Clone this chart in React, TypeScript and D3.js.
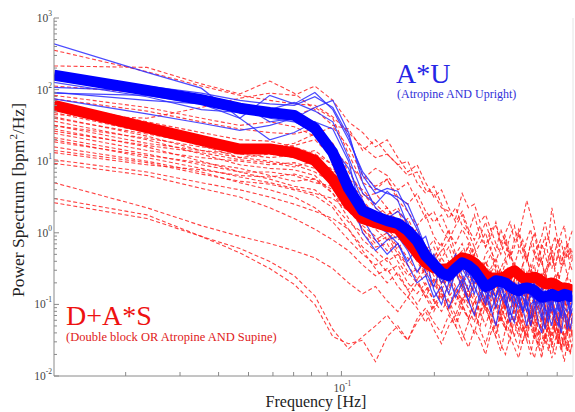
import React from 'react';
import * as d3 from 'd3';

// FFT bin width [Hz]; the spectra are sampled at k * freqStep, k = 1..48
const freqStep = 0.01171875;
const binCount = 48;
const freqs = d3.range(1, binCount + 1).map(k => k * freqStep);

// power spectra, written as exponents of ten
const blueMean = [
  2.20, 1.99, 1.86, 1.74, 1.68, 1.64, 1.46, 1.12, 0.62, 0.31, 0.23, 0.17,
  0.13, 0.03, -0.11, -0.32, -0.44, -0.56, -0.60, -0.50, -0.42, -0.46, -0.53, -0.64,
  -0.75, -0.72, -0.67, -0.68, -0.70, -0.75, -0.79, -0.81, -0.78, -0.77, -0.78, -0.81,
  -0.86, -0.90, -0.89, -0.88, -0.86, -0.88, -0.89, -0.88, -0.86, -0.87, -0.89, -0.88,
];

const redMean = [
  1.78, 1.47, 1.29, 1.17, 1.17, 1.12, 1.01, 0.74, 0.40, 0.20, 0.14, 0.09,
  0.06, -0.11, -0.28, -0.42, -0.49, -0.51, -0.50, -0.42, -0.35, -0.37, -0.42, -0.50,
  -0.60, -0.63, -0.63, -0.63, -0.61, -0.56, -0.53, -0.58, -0.63, -0.64, -0.63, -0.62,
  -0.64, -0.68, -0.71, -0.71, -0.70, -0.72, -0.75, -0.77, -0.77, -0.78, -0.79, -0.81,
];

// A*U subjects (thin blue)
const blueSubjects = [
  [2.64,2.24,2.02,1.60,1.92,1.80,1.96,1.72,1.30,0.85,0.62,0.55,
   0.50,0.40,0.10,-0.20,-0.45,-0.70,-0.55,-0.35,-0.60,-0.80,-0.55,-0.75,
   -0.95,-0.70,-0.60,-0.85,-1.00,-0.80,-0.70,-0.95,-1.10,-0.85,-0.75,-0.95,
   -1.05,-1.20,-0.95,-0.80,-1.00,-1.15,-0.95,-0.85,-1.05,-1.10,-0.90,-1.00],
  [2.15,2.05,1.95,1.85,1.80,1.78,1.90,1.75,1.35,0.80,0.55,0.62,
   0.58,0.30,0.05,-0.25,-0.55,-0.45,-0.70,-0.40,-0.30,-0.55,-0.70,-0.50,
   -0.80,-0.90,-0.60,-0.75,-0.70,-0.95,-0.85,-0.70,-0.90,-1.00,-0.85,-0.95,
   -0.80,-1.05,-0.90,-1.00,-0.85,-0.95,-1.10,-0.90,-0.80,-1.00,-0.95,-0.90],
  [2.03,1.98,1.92,1.80,1.55,1.60,1.75,1.85,1.40,0.70,0.35,0.20,
   0.30,0.15,-0.20,-0.50,-0.30,-0.60,-0.85,-0.55,-0.45,-0.60,-0.45,-0.85,
   -1.00,-0.75,-0.90,-0.65,-0.95,-1.15,-0.80,-0.90,-0.70,-1.00,-1.20,-0.90,
   -0.95,-0.85,-1.10,-1.25,-0.95,-0.85,-1.00,-1.20,-0.95,-0.90,-1.15,-1.05],
  [1.96,1.85,1.80,1.72,1.60,1.55,1.40,1.05,0.55,0.00,-0.25,-0.10,
   -0.05,-0.25,-0.55,-0.35,-0.80,-1.00,-0.70,-0.55,-0.75,-0.95,-0.70,-0.60,
   -0.85,-1.10,-0.90,-0.75,-0.95,-1.25,-1.00,-0.85,-1.10,-0.95,-1.30,-1.05,
   -0.90,-1.15,-1.35,-1.05,-0.95,-1.20,-1.30,-1.00,-1.10,-1.35,-1.15,-1.05],
  [1.87,1.66,1.53,1.43,1.50,1.60,1.55,1.20,0.90,0.45,0.10,0.00,
   -0.15,-0.40,-0.20,-0.55,-0.75,-0.45,-0.60,-0.90,-0.70,-0.50,-0.75,-0.95,
   -0.65,-0.80,-1.05,-0.80,-0.60,-0.85,-1.00,-0.75,-0.90,-1.10,-0.85,-0.70,
   -0.95,-1.00,-0.80,-1.15,-0.90,-0.80,-1.05,-1.15,-0.85,-0.95,-1.10,-0.95],
  [2.10,1.90,1.72,1.68,1.72,1.82,1.70,1.55,1.05,0.55,0.40,0.58,
   0.45,0.10,-0.15,-0.05,-0.40,-0.65,-0.50,-0.30,-0.50,-0.65,-0.85,-0.60,
   -0.50,-0.75,-0.90,-0.65,-0.80,-0.70,-0.90,-1.05,-0.80,-0.70,-0.90,-0.85,
   -1.00,-0.75,-0.90,-0.95,-1.10,-0.85,-0.80,-1.00,-0.90,-0.85,-1.05,-0.95],
  [1.95,1.92,1.80,1.60,1.30,1.40,1.55,1.45,1.00,0.20,-0.10,-0.30,
   -0.15,-0.45,-0.70,-0.60,-0.90,-0.75,-1.05,-0.80,-0.65,-0.95,-1.15,-0.85,
   -0.75,-1.05,-1.30,-0.95,-0.85,-1.10,-1.25,-0.90,-1.05,-1.30,-1.00,-0.95,
   -1.25,-1.40,-1.05,-1.15,-1.30,-1.05,-1.20,-1.40,-1.10,-1.20,-1.35,-1.15],
];

// D+A*S subjects (thin red dashed)
const redSubjects = [
  [2.55,2.25,2.05,1.92,1.85,1.80,1.78,1.62,1.40,1.20,1.05,1.10,
   0.95,0.80,0.85,0.60,0.55,0.35,0.30,0.20,0.55,0.35,0.40,0.15,
   0.25,0.05,0.10,-0.15,0.00,0.15,-0.10,-0.05,0.20,0.45,0.25,0.05,
   -0.20,-0.05,0.15,-0.10,0.35,0.10,-0.15,0.00,0.10,-0.20,-0.05,0.05],
  [2.33,2.31,2.08,1.94,2.12,1.95,1.72,1.50,1.45,1.15,1.30,1.10,
   0.95,1.00,0.70,0.55,0.65,0.40,0.20,0.35,0.10,0.00,0.25,-0.05,
   -0.20,0.05,-0.15,-0.30,-0.10,-0.35,-0.20,0.00,-0.25,-0.40,-0.15,-0.30,
   -0.45,-0.20,-0.05,-0.35,-0.50,-0.25,-0.10,-0.40,-0.30,-0.15,-0.35,-0.25],
  [2.05,1.95,1.80,1.72,1.70,1.62,1.75,1.60,1.10,0.70,0.60,0.75,
   0.45,0.30,0.10,0.25,-0.05,-0.20,0.05,-0.30,-0.45,-0.15,-0.35,-0.55,
   -0.30,-0.20,-0.50,-0.65,-0.40,-0.25,-0.55,-0.70,-0.45,-0.30,-0.60,-0.75,
   -0.50,-0.35,-0.65,-0.45,-0.30,-0.55,-0.70,-0.50,-0.40,-0.60,-0.45,-0.55],
  [1.65,1.60,1.75,1.88,1.95,1.92,2.05,1.85,1.55,1.40,1.20,1.30,
   1.05,0.85,0.95,0.70,0.50,0.60,0.35,0.15,0.30,0.05,-0.10,0.10,
   -0.20,-0.05,0.15,-0.15,-0.30,-0.05,0.10,-0.20,-0.35,-0.10,0.05,-0.25,
   -0.40,-0.15,-0.30,-0.50,-0.20,-0.05,-0.30,-0.45,-0.20,-0.35,-0.25,-0.40],
  [1.87,1.70,1.55,1.45,1.40,1.38,1.45,1.25,0.85,0.55,0.35,0.20,
   0.30,0.05,-0.15,-0.30,-0.20,-0.45,-0.60,-0.35,-0.25,-0.50,-0.65,-0.45,
   -0.70,-0.85,-0.60,-0.50,-0.75,-0.90,-0.65,-0.55,-0.80,-0.95,-0.70,-0.60,
   -0.85,-1.00,-0.75,-0.65,-0.90,-0.80,-1.00,-0.85,-0.70,-0.95,-0.85,-0.90],
  [1.82,1.55,1.40,1.30,1.28,1.20,1.10,0.95,0.60,0.30,0.15,0.25,
   0.00,-0.20,-0.40,-0.25,-0.55,-0.70,-0.50,-0.40,-0.65,-0.80,-0.60,-0.45,
   -0.75,-0.95,-0.70,-0.85,-1.05,-0.80,-0.70,-0.95,-1.10,-0.85,-1.00,-1.20,
   -0.90,-0.80,-1.05,-1.20,-0.95,-1.10,-1.25,-1.00,-0.90,-1.15,-1.05,-1.20],
  [1.75,1.45,1.30,1.20,1.15,1.22,1.30,1.05,0.70,0.50,0.55,0.35,
   0.10,0.20,-0.05,-0.20,-0.40,-0.25,-0.10,-0.35,-0.55,-0.40,-0.20,-0.45,
   -0.65,-0.50,-0.35,-0.60,-0.80,-0.55,-0.40,-0.70,-0.85,-0.60,-0.45,-0.75,
   -0.90,-0.65,-0.50,-0.80,-0.95,-0.70,-0.55,-0.85,-0.75,-0.60,-0.90,-0.75],
  [1.68,1.40,1.22,1.05,1.00,0.95,0.85,0.70,0.40,0.05,-0.10,0.00,
   -0.25,-0.45,-0.30,-0.60,-0.75,-0.55,-0.85,-1.00,-0.70,-0.60,-0.90,-1.10,
   -0.85,-0.70,-1.00,-1.20,-0.90,-0.75,-1.05,-1.25,-0.95,-1.10,-1.30,-1.00,
   -0.85,-1.15,-1.30,-1.05,-0.95,-1.25,-1.40,-1.10,-1.00,-1.30,-1.15,-1.25],
  [1.62,1.35,1.15,1.05,1.10,1.05,0.95,0.90,0.75,0.60,0.40,0.25,
   0.35,0.10,-0.05,-0.25,-0.10,-0.35,-0.50,-0.30,-0.15,-0.40,-0.55,-0.70,
   -0.45,-0.30,-0.55,-0.75,-0.50,-0.65,-0.85,-0.60,-0.45,-0.70,-0.90,-0.65,
   -0.80,-0.55,-0.75,-0.95,-0.70,-0.60,-0.85,-0.70,-0.95,-0.80,-0.65,-0.85],
  [1.56,1.30,1.10,0.95,0.90,0.88,0.80,0.55,0.20,-0.10,-0.25,-0.40,
   -0.30,-0.55,-0.70,-0.90,-0.65,-0.80,-1.05,-0.85,-0.70,-0.95,-1.15,-0.90,
   -1.05,-1.25,-0.95,-0.85,-1.10,-1.30,-1.05,-0.90,-1.20,-1.35,-1.05,-1.20,
   -1.45,-1.15,-1.00,-1.30,-1.45,-1.20,-1.10,-1.35,-1.50,-1.25,-1.15,-1.30],
  [1.50,1.25,1.15,1.10,1.05,1.08,1.15,0.95,0.45,0.25,0.30,0.05,
   -0.10,0.00,-0.20,-0.40,-0.55,-0.35,-0.20,-0.50,-0.65,-0.45,-0.30,-0.60,
   -0.80,-0.55,-0.45,-0.70,-0.90,-0.60,-0.75,-0.95,-0.70,-0.55,-0.80,-0.95,
   -0.70,-0.85,-1.05,-0.80,-0.65,-0.90,-1.00,-0.75,-0.90,-1.05,-0.85,-0.95],
  [1.45,1.20,1.00,0.85,0.75,0.65,0.60,0.40,0.15,0.00,-0.20,-0.15,
   -0.40,-0.60,-0.50,-0.75,-0.95,-0.70,-0.60,-0.85,-1.05,-0.80,-0.95,-1.15,
   -0.90,-0.75,-1.05,-1.25,-1.00,-0.85,-1.15,-1.35,-1.05,-0.95,-1.25,-1.40,
   -1.10,-1.25,-1.50,-1.20,-1.05,-1.35,-1.55,-1.25,-1.10,-1.40,-1.30,-1.45],
  [1.39,1.15,1.05,1.00,0.95,0.98,0.90,0.85,0.60,0.30,0.10,0.15,
   -0.05,-0.15,-0.35,-0.20,-0.45,-0.60,-0.40,-0.55,-0.75,-0.50,-0.40,-0.65,
   -0.85,-0.60,-0.70,-0.90,-0.65,-0.50,-0.80,-1.00,-0.75,-0.60,-0.85,-1.05,
   -0.80,-0.65,-0.95,-1.10,-0.85,-0.70,-1.00,-1.15,-0.90,-0.80,-1.05,-0.95],
  [1.33,1.10,0.95,0.85,0.85,0.80,0.70,0.65,0.35,0.05,-0.15,-0.05,
   -0.30,-0.45,-0.65,-0.50,-0.70,-0.90,-0.75,-0.55,-0.80,-1.00,-0.75,-0.90,
   -1.10,-0.85,-0.70,-1.00,-1.20,-0.90,-1.05,-1.25,-0.95,-0.80,-1.10,-1.30,
   -1.00,-1.15,-1.35,-1.05,-0.90,-1.20,-1.40,-1.10,-1.25,-1.45,-1.15,-1.30],
  [1.27,1.08,0.98,0.90,0.80,0.72,0.75,0.60,0.45,0.40,0.20,0.00,
   0.10,-0.15,-0.25,-0.45,-0.30,-0.50,-0.65,-0.45,-0.30,-0.55,-0.75,-0.50,
   -0.40,-0.65,-0.85,-0.60,-0.75,-0.95,-0.65,-0.50,-0.80,-0.95,-0.70,-0.85,
   -1.05,-0.80,-0.65,-0.90,-1.05,-0.80,-0.95,-1.10,-0.85,-0.75,-1.00,-0.90],
  [1.20,1.00,0.85,0.70,0.60,0.50,0.35,0.15,-0.10,-0.30,-0.45,-0.35,
   -0.60,-0.80,-0.65,-0.90,-1.10,-0.85,-1.00,-1.25,-0.95,-0.80,-1.10,-1.30,
   -1.00,-1.15,-1.40,-1.10,-0.95,-1.25,-1.45,-1.15,-1.30,-1.50,-1.20,-1.05,
   -1.35,-1.55,-1.25,-1.40,-1.60,-1.30,-1.15,-1.45,-1.60,-1.35,-1.25,-1.45],
  [1.12,0.95,0.88,0.80,0.78,0.82,0.75,0.55,0.30,0.15,0.20,0.00,
   -0.20,-0.10,-0.35,-0.55,-0.40,-0.65,-0.80,-0.55,-0.70,-0.90,-0.65,-0.50,
   -0.80,-1.00,-0.70,-0.85,-1.05,-0.80,-0.65,-0.95,-1.10,-0.85,-1.00,-1.20,
   -0.90,-0.75,-1.05,-1.20,-0.95,-1.10,-1.30,-1.00,-0.85,-1.15,-1.05,-1.20],
  [1.02,0.85,0.70,0.60,0.50,0.40,0.30,0.20,0.05,-0.20,-0.35,-0.55,
   -0.45,-0.70,-0.85,-0.70,-0.95,-1.10,-0.90,-0.75,-1.00,-1.20,-0.95,-1.10,
   -1.30,-1.05,-0.90,-1.20,-1.35,-1.10,-1.25,-1.45,-1.15,-1.00,-1.30,-1.50,
   -1.20,-1.35,-1.55,-1.25,-1.10,-1.40,-1.55,-1.30,-1.45,-1.65,-1.35,-1.50],
  [0.97,0.80,0.62,0.50,0.35,0.20,0.05,-0.10,-0.25,-0.45,-0.60,-0.50,
   -0.75,-0.90,-0.70,-0.85,-1.05,-0.80,-0.95,-1.15,-0.90,-1.05,-1.25,-0.95,
   -0.80,-1.10,-1.30,-1.05,-1.20,-1.40,-1.10,-0.95,-1.25,-1.45,-1.15,-1.30,
   -1.50,-1.20,-1.05,-1.35,-1.50,-1.25,-1.40,-1.60,-1.30,-1.15,-1.45,-1.35],
  [0.70,0.35,0.10,-0.05,-0.15,-0.25,-0.35,-0.50,-0.70,-0.85,-0.75,-0.95,
   -1.10,-0.90,-1.05,-1.25,-1.00,-0.85,-1.10,-1.30,-1.05,-1.20,-1.40,-1.10,
   -0.95,-1.25,-1.45,-1.15,-1.30,-1.50,-1.20,-1.35,-1.55,-1.25,-1.10,-1.40,
   -1.60,-1.30,-1.45,-1.65,-1.35,-1.20,-1.50,-1.65,-1.40,-1.55,-1.70,-1.45],
  [0.48,0.25,-0.05,-0.28,-0.50,-0.72,-1.00,-1.45,-1.55,-1.50,-1.80,-1.45,
   -1.30,-1.50,-1.25,-1.10,-1.35,-1.55,-1.30,-1.15,-1.40,-1.60,-1.35,-1.50,
   -1.70,-1.40,-1.25,-1.55,-1.70,-1.45,-1.60,-1.75,-1.50,-1.35,-1.60,-1.75,
   -1.50,-1.65,-1.40,-1.55,-1.75,-1.50,-1.35,-1.60,-1.45,-1.65,-1.50,-1.60],
  [0.42,0.20,-0.05,-0.22,-0.40,-0.60,-0.88,-1.35,-1.62,-1.45,-1.30,-1.15,
   -1.35,-1.50,-1.20,-1.05,-1.25,-1.40,-1.15,-1.30,-1.50,-1.25,-1.10,-1.35,
   -1.55,-1.30,-1.45,-1.65,-1.35,-1.20,-1.45,-1.60,-1.30,-1.50,-1.70,-1.40,
   -1.55,-1.75,-1.45,-1.30,-1.55,-1.70,-1.45,-1.60,-1.80,-1.50,-1.65,-1.55],
  [1.50,1.32,1.20,1.12,1.18,1.25,1.38,1.48,1.20,0.80,0.65,0.75,
   0.50,0.40,0.55,0.30,0.15,0.25,0.00,-0.15,0.05,-0.10,-0.30,-0.15,
   0.00,-0.25,-0.40,-0.20,-0.05,-0.30,-0.45,-0.25,-0.10,-0.35,-0.55,-0.30,
   -0.15,-0.40,-0.60,-0.35,-0.20,-0.45,-0.30,-0.50,-0.35,-0.25,-0.45,-0.35],
  [1.92,1.75,1.60,1.50,1.55,1.48,1.35,1.15,0.95,0.75,0.90,0.80,
   0.60,0.70,0.45,0.20,0.30,0.05,-0.10,0.10,0.25,0.00,-0.20,-0.05,
   0.15,-0.10,-0.25,0.05,-0.15,-0.35,-0.10,0.05,-0.20,-0.40,-0.15,0.00,
   -0.30,-0.45,-0.20,-0.05,-0.35,-0.50,-0.25,-0.10,-0.40,-0.30,-0.20,-0.35],
  [1.60,1.38,1.25,1.18,1.12,1.05,1.02,0.80,0.50,0.20,0.05,-0.10,
   0.05,-0.20,-0.40,-0.60,-0.45,-0.70,-0.55,-0.75,-0.95,-0.70,-0.55,-0.80,
   -1.00,-0.75,-0.90,-1.10,-0.80,-0.65,-0.95,-1.10,-0.85,-1.00,-1.20,-0.90,
   -0.75,-1.05,-1.25,-0.95,-1.10,-1.30,-1.00,-0.85,-1.15,-1.30,-1.05,-1.15],
  [1.42,1.22,1.12,1.02,0.98,0.92,1.00,0.88,0.65,0.45,0.25,0.35,
   0.15,-0.05,0.05,-0.20,-0.35,-0.15,-0.40,-0.55,-0.35,-0.20,-0.45,-0.60,
   -0.40,-0.55,-0.75,-0.50,-0.35,-0.60,-0.80,-0.55,-0.70,-0.90,-0.60,-0.45,
   -0.75,-0.90,-0.65,-0.80,-1.00,-0.70,-0.55,-0.85,-1.00,-0.75,-0.90,-0.80],
  [1.30,1.05,0.90,0.78,0.70,0.62,0.55,0.48,0.30,0.10,-0.05,-0.25,
   -0.15,-0.35,-0.55,-0.40,-0.60,-0.80,-0.60,-0.45,-0.70,-0.90,-0.65,-0.80,
   -1.00,-0.75,-0.60,-0.90,-1.05,-0.80,-0.95,-1.15,-0.85,-0.70,-1.00,-1.15,
   -0.90,-1.05,-1.25,-0.95,-0.80,-1.10,-1.25,-1.00,-1.15,-1.35,-1.05,-1.20],
  [1.15,0.98,0.82,0.72,0.68,0.60,0.52,0.35,0.05,-0.25,-0.50,-0.70,
   -0.55,-0.80,-1.00,-0.80,-0.65,-0.90,-1.10,-0.85,-1.00,-1.20,-0.95,-0.80,
   -1.05,-1.25,-1.00,-1.15,-1.35,-1.05,-0.90,-1.20,-1.40,-1.10,-1.25,-1.45,
   -1.15,-1.00,-1.30,-1.45,-1.20,-1.35,-1.55,-1.25,-1.10,-1.40,-1.30,-1.45],
];

const yTickExps = [3, 2, 1, 0, -1, -2];
const xTickExps = [-1];

const W = 575;
const H = 412;
const left = 54;
const right = 573;
const top = 18;
const bottom = 376;
const serif = "'Liberation Serif', 'Times New Roman', 'DejaVu Serif', serif";

export default function App() {
  const x = d3.scaleLog().domain([freqStep, freqStep * binCount]).range([left, right]);
  const y = d3.scaleLog().domain([1e-2, 1e3]).range([bottom, top]);

  const line = d3.line<number>()
    .x((_, i) => x(freqs[i]))
    .y(v => y(Math.pow(10, v)));

  const yMinor = y.ticks().filter(t => Math.abs(Math.log10(t) % 1) > 1e-6);
  const xMinor = x.ticks().filter(t => Math.abs(Math.log10(t) % 1) > 1e-6);
  const txt = { fontFamily: serif };

  return (
    <svg width={W} height={H} style={{ position: 'absolute', left: 0, top: 0, background: '#fff', fontFamily: serif }}>
      <defs>
        <clipPath id="plot">
          <rect x={left} y={top} width={right - left} height={bottom - top} />
        </clipPath>
      </defs>

      <g clipPath="url(#plot)" fill="none">
        {redSubjects.map((s, i) => (
          <path key={'r' + i} d={line(s) || ''} stroke="#ff2020" strokeWidth={1.1}
            strokeDasharray="4,2.5" strokeOpacity={0.85} />
        ))}
        {blueSubjects.map((s, i) => (
          <path key={'b' + i} d={line(s) || ''} stroke="#2a2aff" strokeWidth={1.2}
            strokeOpacity={0.85} />
        ))}
        <path d={line(redMean) || ''} stroke="#ff0000" strokeWidth={11} strokeLinejoin="round" />
        <path d={line(blueMean) || ''} stroke="#0000ff" strokeWidth={11} strokeLinejoin="round" />
      </g>

      {/* axes */}
      <g stroke="#8a8a8a" strokeWidth={1}>
        <line x1={left} x2={left} y1={top} y2={bottom} />
        <line x1={left} x2={right} y1={bottom} y2={bottom} />
        <line x1={right} x2={right} y1={top} y2={bottom} stroke="#e4e4e4" />
        {yTickExps.map(e => (
          <line key={'ym' + e} x1={left} x2={left + 5} y1={y(Math.pow(10, e))} y2={y(Math.pow(10, e))} />
        ))}
        {yMinor.map(t => (
          <line key={'yn' + t} x1={left} x2={left + 3} y1={y(t)} y2={y(t)} />
        ))}
        {xTickExps.map(e => (
          <line key={'xm' + e} x1={x(Math.pow(10, e))} x2={x(Math.pow(10, e))} y1={bottom} y2={bottom - 5} />
        ))}
        {xMinor.map(t => (
          <line key={'xn' + t} x1={x(t)} x2={x(t)} y1={bottom} y2={bottom - 4} />
        ))}
      </g>

      <g fill="#444" fontSize={11.5}>
        {yTickExps.map(e => (
          <text key={'yl' + e} style={txt} x={52} y={y(Math.pow(10, e)) + 4} textAnchor="end">
            10<tspan dy={-6} fontSize={7.5}>{e}</tspan>
          </text>
        ))}
        {xTickExps.map(e => (
          <text key={'xl' + e} style={txt} x={x(Math.pow(10, e)) + 1} y={392} textAnchor="middle">
            10<tspan dy={-6} fontSize={7.5}>{e}</tspan>
          </text>
        ))}
      </g>

      <text style={txt} x={316} y={407} textAnchor="middle" fontSize={16} fill="#222">Frequency [Hz]</text>
      <text style={txt} transform={`translate(24,200) rotate(-90)`} textAnchor="middle"
        fontSize={17.5} fill="#222">
        Power Spectrum [bpm<tspan dy={-7} fontSize={11}>2</tspan><tspan dy={7}>/Hz]</tspan>
      </text>

      <text style={txt} x={396} y={83} fontSize={28} fill="#2525e6">A*U</text>
      <text style={txt} x={397} y={98} fontSize={12} fill="#3030d8">(Atropine AND Upright)</text>
      <text style={txt} x={66} y={325} fontSize={28} fill="#ee1111">D+A*S</text>
      <text style={txt} x={66} y={341} fontSize={12.5} fill="#e02020">(Double block OR Atropine AND Supine)</text>
    </svg>
  );
}
